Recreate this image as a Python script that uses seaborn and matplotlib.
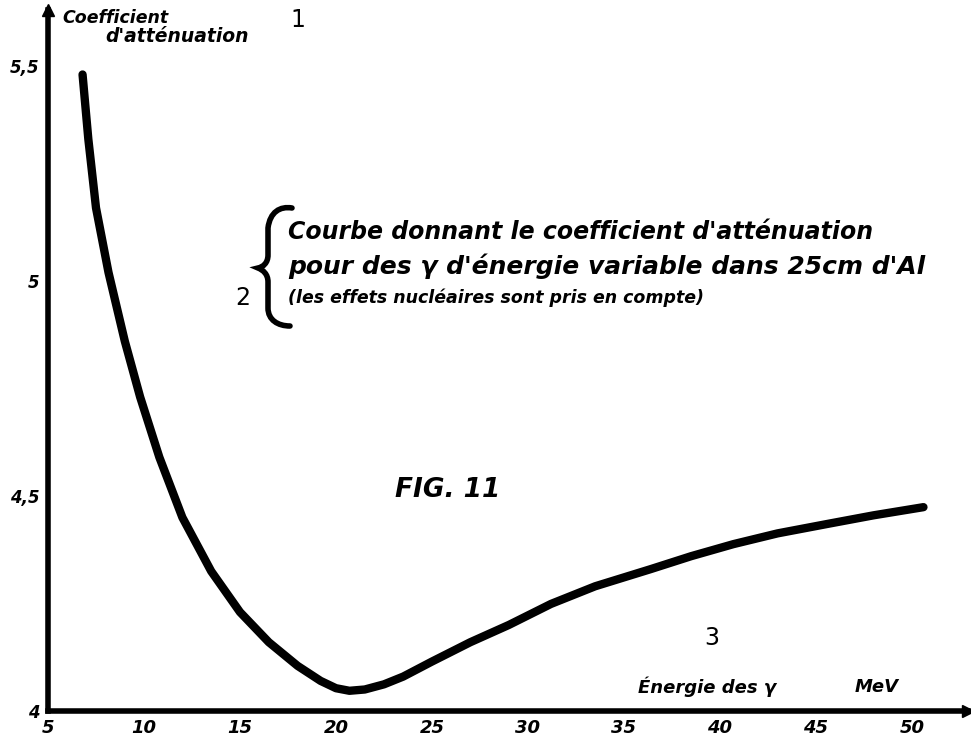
import matplotlib
matplotlib.use("Agg")
import matplotlib.pyplot as plt
import seaborn as sns
import pandas as pd
from matplotlib.path import Path
from matplotlib.patches import PathPatch

# Data
energy_mev = [6.8, 7.1, 7.5, 8.15, 9.0, 9.8, 10.8, 12.0, 13.5, 15.0, 16.5, 18.0,
              19.2, 20.0, 20.7, 21.5, 22.5, 23.5, 25.0, 27.0, 29.0, 31.2, 33.5,
              36.4, 38.5, 40.7, 43.0, 45.6, 48.0, 50.6]
coefficient = [5.48, 5.33, 5.17, 5.02, 4.86, 4.73, 4.59, 4.45, 4.325, 4.23, 4.16, 4.105,
               4.07, 4.053, 4.047, 4.05, 4.062, 4.08, 4.115, 4.16, 4.20, 4.249, 4.29,
               4.33, 4.36, 4.388, 4.413, 4.435, 4.455, 4.474]
x_ticks = [5, 10, 15, 20, 25, 30, 35, 40, 45, 50]
x_tick_labels = ["5", "10", "15", "20", "25", "30", "35", "40", "45", "50"]
y_ticks = [4.0, 4.5, 5.0, 5.5]
y_tick_labels = ["4", "4,5", "5", "5,5"]

df = pd.DataFrame({"E": energy_mev, "mu": coefficient})

sns.set_theme(style="white")
plt.rcParams['font.family'] = ['DejaVu Sans']
plt.rcParams['text.color'] = 'black'

W, H = 971, 742
fig = plt.figure(figsize=(W / 100, H / 100), dpi=100)
fig.patch.set_facecolor("white")
ax = fig.add_axes([48 / W, (H - 711) / H, (968 - 48) / W, (711 - 10) / H])
ax.set_facecolor("white")

sns.lineplot(data=df, x="E", y="mu", sort=False, color="black", linewidth=6,
             ax=ax, solid_capstyle="round", solid_joinstyle="round")

ax.set_xlim(5, 52.92)
ax.set_ylim(4.0, 5.63)
for s in ["top", "right"]:
    ax.spines[s].set_visible(False)
for s in ["left", "bottom"]:
    ax.spines[s].set_color("black")
    ax.spines[s].set_linewidth(4)

# arrowheads
ax.plot(1, 0, marker=">", color="black", markersize=9, transform=ax.transAxes, clip_on=False)
ax.plot(0, 1, marker="^", color="black", markersize=9, transform=ax.transAxes, clip_on=False)

tfont = dict(fontweight="bold", fontstyle="italic", color="black")
ax.set_xticks(x_ticks)
ax.set_xticklabels(x_tick_labels, fontsize=13, **tfont)
ax.set_yticks(y_ticks)
ax.set_yticklabels(y_tick_labels, fontsize=12, **tfont)
ax.tick_params(axis="both", length=0, pad=6, colors="black")
ax.set_xlabel("")
ax.set_ylabel("")

def px(x, y):
    return (x / W, 1 - y / H)

fig.text(*px(62, 18), "Coefficient", fontsize=12.5, ha="left", va="center", **tfont)
fig.text(*px(105, 37), "d'atténuation", fontsize=13.5, ha="left", va="center", **tfont)
fig.text(*px(290, 20), "1", fontsize=17, ha="left", va="center", color="black")

# curly brace drawn as a path (figure pixel coordinates)
brace_pts = [(292, 208), (280, 206), (270, 212), (268, 228),
             (268, 255),
             (268, 263), (263, 267), (258, 268),
             (263, 270), (268, 274), (268, 282),
             (268, 308),
             (268, 320), (278, 326), (290, 326)]
brace_codes = [Path.MOVETO, Path.CURVE4, Path.CURVE4, Path.CURVE4,
               Path.LINETO,
               Path.CURVE4, Path.CURVE4, Path.CURVE4,
               Path.CURVE4, Path.CURVE4, Path.CURVE4,
               Path.LINETO,
               Path.CURVE4, Path.CURVE4, Path.CURVE4]
brace = Path([px(x, y) for x, y in brace_pts], brace_codes)
fig.patches.append(PathPatch(brace, transform=fig.transFigure, fill=False,
                             edgecolor="black", linewidth=4, capstyle="round"))

fig.text(*px(243, 298), "2", fontsize=17, ha="center", va="center", color="black")
fig.text(*px(288, 232), "Courbe donnant le coefficient d'atténuation", fontsize=17,
         ha="left", va="center", **tfont)
fig.text(*px(288, 266), "pour des γ d'énergie variable dans 25cm d'Al", fontsize=18,
         ha="left", va="center", **tfont)
fig.text(*px(288, 298), "(les effets nucléaires sont pris en compte)", fontsize=12.5,
         ha="left", va="center", **tfont)
fig.text(*px(395, 490), "FIG. 11", fontsize=19, ha="left", va="center", **tfont)
fig.text(*px(712, 638), "3", fontsize=17, ha="center", va="center", color="black")
fig.text(*px(638, 687), "Énergie des γ", fontsize=13, ha="left", va="center", **tfont)
fig.text(*px(855, 687), "MeV", fontsize=13, ha="left", va="center", **tfont)

fig.savefig("out.png", dpi=100, facecolor="white")
